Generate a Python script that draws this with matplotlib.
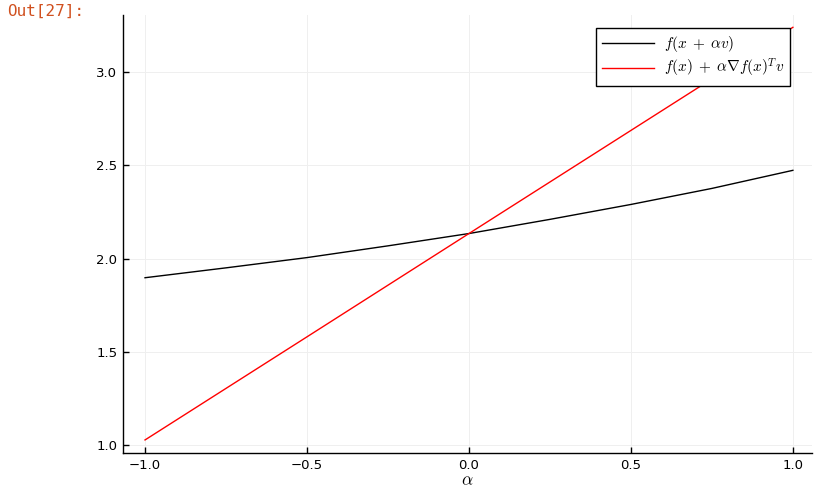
import numpy as np
import matplotlib
matplotlib.use("Agg")
import matplotlib.pyplot as plt

plt.rcParams['mathtext.fontset'] = 'cm'
plt.rcParams['font.family'] = ['DejaVu Sans']

# step sizes and function values
alpha = [-1.0, -0.75, -0.5, -0.25, 0.0, 0.25, 0.5, 0.75, 1.0]
f_exact = [1.897, 1.950, 2.005, 2.068, 2.134, 2.210, 2.290, 2.376, 2.473]
alpha_lin = [-1.0, -0.5, 0.0, 0.5, 1.0]
f_linear = [1.027, 1.580, 2.134, 2.687, 3.240]

xticks = [-1.0, -0.5, 0.0, 0.5, 1.0]
yticks = [1.0, 1.5, 2.0, 2.5, 3.0]

fig = plt.figure(figsize=(8.39, 4.94), dpi=100)
ax = fig.add_axes([0.1466, 0.083, 0.8212, 0.8866])

ax.plot(alpha, f_exact, color='black', lw=1.0, label=r'$f(x\;+\;\alpha v)$')
ax.plot(alpha_lin, f_linear, color='red', lw=1.0,
        label=r'$f(x)\;+\;\alpha \nabla f(x)^T v$')

ax.set_xlim(-1.068, 1.059)
ax.set_ylim(0.957, 3.306)
ax.set_xticks(xticks)
ax.set_yticks(yticks)
ax.set_xticklabels(['\u22121.0', '\u22120.5', '0.0', '0.5', '1.0'])
ax.set_yticklabels(['1.0', '1.5', '2.0', '2.5', '3.0'])
ax.tick_params(direction='in', length=4, width=1, labelsize=9.5, pad=4)
ax.grid(True, color='#efefef', lw=0.7)
ax.set_axisbelow(True)
for s in ['top', 'right']:
    ax.spines[s].set_visible(False)
for s in ['left', 'bottom']:
    ax.spines[s].set_linewidth(1.0)

ax.set_xlabel(r'$\alpha$', fontsize=12.5, labelpad=0)

leg = ax.legend(loc='upper right', bbox_to_anchor=(0.968, 0.970), fontsize=11,
                fancybox=False, framealpha=1, edgecolor='black',
                handlelength=3.4, handletextpad=0.6, borderpad=0.4,
                labelspacing=0.2, borderaxespad=0)
leg.get_frame().set_linewidth(1.0)

fig.text(0.008, 0.992, 'Out[27]:', color='#d0501f', family='DejaVu Sans Mono',
         fontsize=11.5, va='top', ha='left')

fig.savefig('out.png', dpi=100)
